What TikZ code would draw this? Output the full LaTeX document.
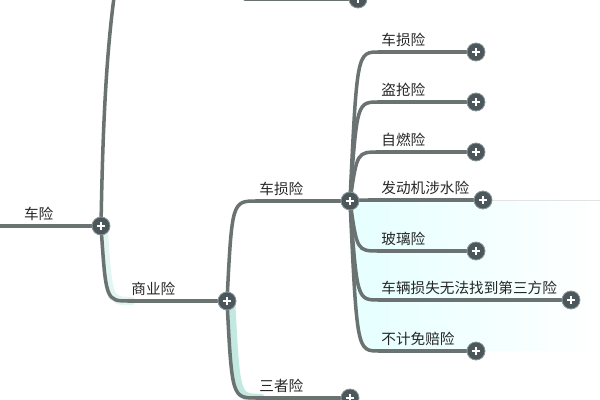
\documentclass[tikz,border=0pt]{standalone}
\usepackage{fontspec}
\setmainfont{Noto Sans CJK SC}
\usetikzlibrary{positioning}
\pgfdeclarelayer{background}
\pgfsetlayers{background,main}
\definecolor{branchgray}{HTML}{6A7372}
\definecolor{knobfill}{HTML}{4B575A}
\definecolor{knobring}{HTML}{8C9799}
\definecolor{labelink}{HTML}{262626}
\definecolor{glowteal}{HTML}{8FD6C4}
\tikzset{
  knob/.style={circle, fill=knobfill, draw=knobring, line width=0.6pt, minimum size=0.45cm, inner sep=0pt,
    path picture={\draw[white, line width=1.8pt]
      ([xshift=-0.1cm]path picture bounding box.center) -- ([xshift=0.1cm]path picture bounding box.center)
      ([yshift=-0.1cm]path picture bounding box.center) -- ([yshift=0.1cm]path picture bounding box.center);}},
  branch/.style={draw=branchgray, line width=2.5pt, line cap=round},
  glow/.style={draw=glowteal, line width=6pt, opacity=0.55, line cap=round},
  lbl/.style={text=labelink, inner sep=0pt, font=\fontsize{10.4}{12}\selectfont},
}

\begin{document}
\begin{tikzpicture}[x=0.025cm, y=-0.025cm]
    \useasboundingbox (0,0) rectangle (600,400);
    \clip (0,0) rectangle (600,400);

    % hubs
    \node[knob] (car) at (101,226) {};
    \node[knob] (biz) at (227,301) {};
    \node[knob] (dmg) at (350,201) {};

    % free ends
    \coordinate (rootin) at (-5,226);
    \coordinate (upout) at (190,-160);
    \coordinate (topin) at (245,-1);
    \coordinate (bizs) at (129,301);
    \coordinate (dmgs) at (257,201);
    \coordinate (thirds) at (257,398);

    % leaves
    \node[knob] (topk) at (358,-1) {};
    \node[knob] (third) at (350,398) {};
    \node[knob] (body) at (476,52) {};
    \node[knob] (theft) at (476,102) {};
    \node[knob] (fire) at (476,152) {};
    \node[knob] (engine) at (483,200) {};
    \node[knob] (glass) at (476,251) {};
    \node[knob] (nothird) at (571,300) {};
    \node[knob] (nodeduct) at (476,351) {};

    \coordinate (bodys) at (379,52);
    \coordinate (thefts) at (379,102);
    \coordinate (fires) at (379,152);
    \coordinate (engines) at (379,200);
    \coordinate (glasss) at (379,251);
    \coordinate (nothirds) at (379,300);
    \coordinate (nodeducts) at (379,351);

    % labels
    \node[lbl, above right=3.5pt and 0.72cm of rootin] {车险};
    \node[lbl, above right=3.5pt and 1.5pt of bizs] {商业险};
    \node[lbl, above right=3.5pt and 1.5pt of dmgs] {车损险};
    \node[lbl, above right=3.5pt and 1.5pt of thirds] {三者险};
    \node[lbl, above right=3.5pt and 1.5pt of bodys] {车损险};
    \node[lbl, above right=3.5pt and 1.5pt of thefts] {盗抢险};
    \node[lbl, above right=3.5pt and 1.5pt of fires] {自燃险};
    \node[lbl, above right=3.5pt and 1.5pt of engines] {发动机涉水险};
    \node[lbl, above right=3.5pt and 1.5pt of glasss] {玻璃险};
    \node[lbl, above right=3.5pt and 1.5pt of nothirds] {车辆损失无法找到第三方险};
    \node[lbl, above right=3.5pt and 1.5pt of nodeducts] {不计免赔险};

    \begin{pgfonlayer}{background}
    % tints
    \fill[left color=cyan!10, right color=white] (dmg.center) .. controls (357,351) .. (nodeducts) -- (600,351) -- (600,201) -- cycle;
    \draw[glow, transform canvas={xshift=1mm}] (biz.center) .. controls (232,398) .. (thirds);
    \draw[glow, opacity=0.25, transform canvas={xshift=0.6mm}] (car.center) .. controls (106,301) .. (bizs);

    \draw[branch] (rootin) -- (car);
    \draw[branch] (car.center) .. controls (104,60) and (112,-150) .. (upout);
    \draw[branch] (topin) -- (topk);
    \draw[branch] (car.center) .. controls (106,301) .. (bizs) -- (biz);
    \draw[branch] (biz.center) .. controls (232,201) .. (dmgs) -- (dmg);
    \draw[branch] (biz.center) .. controls (232,398) .. (thirds) -- (third);
    \draw[branch] (dmg.center) .. controls (357,52) .. (bodys) -- (body);
    \draw[branch] (dmg.center) .. controls (357,102) .. (thefts) -- (theft);
    \draw[branch] (dmg.center) .. controls (357,152) .. (fires) -- (fire);
    \draw[branch] (dmg.center) .. controls (357,200) .. (engines) -- (engine);
    \draw[branch] (dmg.center) .. controls (357,251) .. (glasss) -- (glass);
    \draw[branch] (dmg.center) .. controls (357,300) .. (nothirds) -- (nothird);
    \draw[branch] (dmg.center) .. controls (357,351) .. (nodeducts) -- (nodeduct);
    \end{pgfonlayer}
\end{tikzpicture}
\end{document}
